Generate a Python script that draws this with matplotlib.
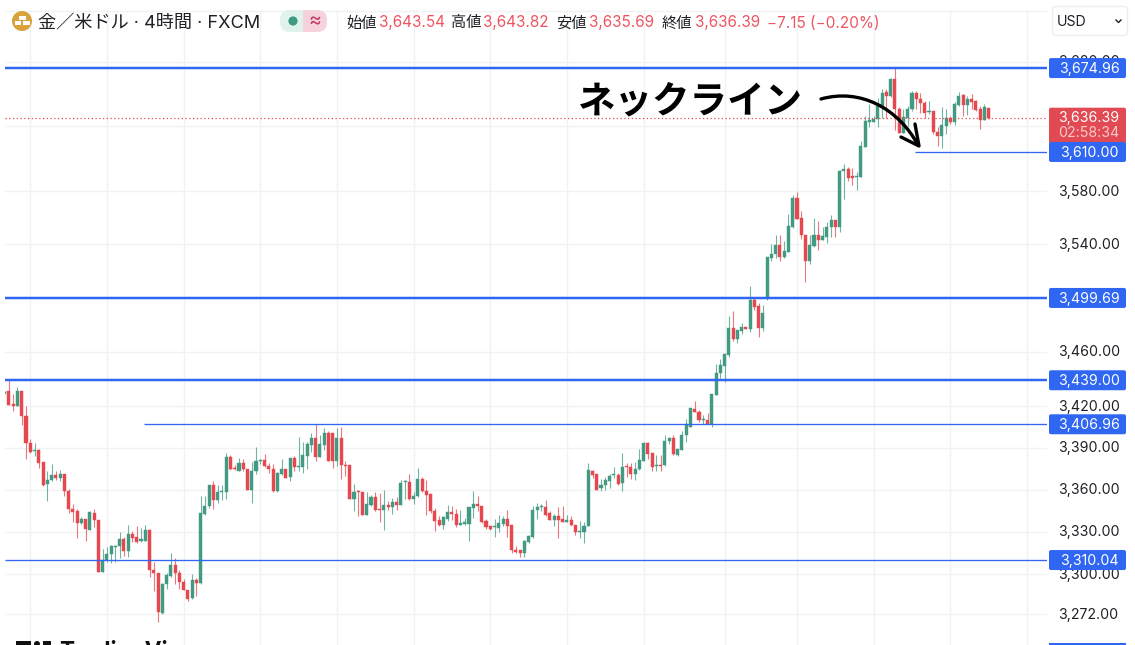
"""
Gold / USD 4h candlestick chart with neckline annotation
"""
import numpy as np
import matplotlib
matplotlib.use('Agg')
import matplotlib.pyplot as plt
from matplotlib.patches import Circle, FancyBboxPatch, PathPatch, Rectangle
from matplotlib.path import Path
from matplotlib.ticker import NullLocator
from matplotlib.transforms import ScaledTranslation

plt.rcParams['font.family'] = ['Inter', 'Noto Sans CJK JP', 'DejaVu Sans']

# g = close above open, r = close below open
directions = (
    "grrgrrrgrr" "ggrgrrrrgr" "grrgggggrg" "rrggrrrggg" "rrrrgrgggr" "gggrrgrrgg" "grrrggrgrg"
    "gggrggrrgr" "rrgrrggrrg" "rgrggrggrr" "rrrggrrggg" "grrrrgggrr" "rrgggggrrg" "rrgrrgggrr"
    "ggggrgrrgg" "grrgrggrgg" "ggrrgrgggg" "grggrgrrgg" "ggrgggrrrg" "grgggrggrr" "gggggggrgr"
    "rgggrrrgrr" "ggrggrgrrr" "gr"
)

body_top = [
    3430.7, 3431.1, 3421.4, 3431.1, 3431.1, 3413.2, 3393.6, 3388.1, 3388.1, 3379.8,
    3367.1, 3370.2, 3370.2, 3371.2, 3371.2, 3359, 3346.3, 3344.4, 3338.7, 3338.9,
    3344, 3343.5, 3338.5, 3310, 3314, 3319.6, 3320.1, 3324.8, 3324.8, 3328.7,
    3328.7, 3326, 3325.1, 3331.5, 3331.5, 3303.3, 3301.2, 3293.3, 3299.3, 3306.4,
    3306.4, 3300.9, 3294.7, 3289.2, 3296.2, 3296.2, 3343, 3348.2, 3363.3, 3363.3,
    3358.3, 3359, 3383.6, 3383.6, 3375.2, 3379.3, 3379.3, 3375, 3373.6, 3380.3,
    3381.2, 3381, 3376.7, 3374.5, 3371.9, 3375, 3375, 3382.4, 3382.4, 3376.9,
    3384.9, 3392.5, 3396.8, 3396.8, 3392.5, 3400.8, 3401, 3400.3, 3397.2, 3397.2,
    3377.8, 3377.3, 3358.5, 3359, 3358.3, 3349.9, 3354.7, 3354.7, 3345.9, 3349,
    3349, 3351.1, 3351.1, 3364.9, 3366.3, 3365.4, 3355.4, 3367.8, 3367.8, 3359,
    3356.6, 3344.5, 3338.1, 3340.2, 3344, 3344, 3342.6, 3335.9, 3336.9, 3347.3,
    3349.9, 3349.9, 3348, 3337.3, 3334, 3333.8, 3336.2, 3339.2, 3339.2, 3334.5,
    3317.4, 3316.9, 3323.6, 3326.9, 3345.2, 3347.3, 3348, 3347.3, 3343, 3341.4,
    3341.2, 3339, 3338.5, 3338.5, 3334.5, 3330.7, 3334.2, 3374.2, 3373.4, 3371,
    3363.4, 3366.8, 3369.7, 3371.2, 3370.5, 3376.1, 3376.6, 3376.1, 3374.6, 3381.3,
    3393.3, 3393.3, 3385.9, 3377.6, 3377.6, 3394.8, 3397.2, 3397.2, 3388.9, 3399.2,
    3407, 3418.6, 3418.1, 3415.9, 3410.5, 3410.2, 3428.6, 3444.3, 3450, 3458,
    3477.7, 3477.7, 3476, 3478.2, 3478.2, 3498, 3497.8, 3493.6, 3488.7, 3530,
    3532.8, 3539.4, 3539.4, 3534.8, 3553.6, 3575.2, 3575.2, 3559.7, 3547, 3539.4,
    3547, 3547, 3546.2, 3553.1, 3558.4, 3558.4, 3595.8, 3597, 3597.3, 3591.4,
    3591.9, 3614.3, 3633.9, 3634.6, 3635.4, 3645.5, 3655.2, 3656.2, 3666.4, 3666.4,
    3643, 3636.7, 3643.5, 3655.2, 3655.2, 3651.1, 3647.6, 3641.7, 3641.7, 3625.7,
    3630.8, 3635.9, 3636.1, 3647.3, 3653.2, 3653.7, 3650.6, 3650.6, 3649.4, 3643,
    3644.3, 3643.54,
]

body_bottom = [
    3429.5, 3421.1, 3420.4, 3419.9, 3412.8, 3393.4, 3387.2, 3387.7, 3379.3, 3363,
    3363.8, 3366.6, 3368.3, 3368.3, 3359, 3345.9, 3343.7, 3336.1, 3336.1, 3332,
    3331.5, 3338.2, 3301.7, 3301.7, 3310, 3314, 3319.1, 3319.6, 3316.5, 3316.5,
    3325.8, 3322.9, 3323.2, 3323.2, 3302.9, 3300.7, 3273.7, 3273.2, 3293, 3299,
    3300.9, 3294.3, 3289, 3282.8, 3283.3, 3294, 3293.8, 3342.8, 3348.2, 3352.3,
    3352.3, 3358.3, 3358.3, 3374.5, 3374.5, 3373.6, 3375, 3359.7, 3359.7, 3373.6,
    3380.5, 3376.7, 3374.5, 3359, 3359, 3371.2, 3368.6, 3368.8, 3376.2, 3376.2,
    3376.1, 3384.4, 3392, 3383.2, 3383.2, 3392, 3380.8, 3380.8, 3380.8, 3377.3,
    3377, 3353.3, 3353.3, 3358, 3342.1, 3342.1, 3349.2, 3345.2, 3345.2, 3345.2,
    3347.3, 3347.6, 3349, 3349.2, 3365.6, 3353.3, 3353.3, 3355.2, 3358.7, 3356.4,
    3344.5, 3337.8, 3335, 3335, 3339.2, 3342.3, 3335, 3335, 3335.4, 3335.7,
    3346.8, 3348, 3336.9, 3333.3, 3332.3, 3333.1, 3332.6, 3335.7, 3334.2, 3317.1,
    3315.5, 3315.2, 3315.2, 3323.1, 3326.2, 3345.2, 3347.3, 3342.1, 3338.5, 3338.5,
    3338.5, 3336.9, 3337.1, 3334.5, 3329.7, 3330, 3330, 3334.2, 3370.7, 3359.9,
    3361.4, 3363.4, 3366, 3370.2, 3364.1, 3364.6, 3375.9, 3371, 3371, 3374.4,
    3380.8, 3385.2, 3375.9, 3376.9, 3376.9, 3377.4, 3394.8, 3385.4, 3384.9, 3388.6,
    3398.9, 3405.3, 3415.9, 3409.7, 3410, 3407.3, 3407.3, 3428.4, 3444.1, 3449.5,
    3457.6, 3469.1, 3469.1, 3475.5, 3476.4, 3476.4, 3493.1, 3477.2, 3477.2, 3499.7,
    3529.5, 3532.8, 3530, 3530, 3534.3, 3553.1, 3559.2, 3546.5, 3527.4, 3527.2,
    3538.9, 3543.2, 3543.2, 3545.7, 3552.8, 3552.8, 3552.8, 3595.5, 3590.2, 3590.2,
    3590.7, 3591.2, 3613.8, 3633.3, 3633.3, 3635.4, 3645, 3653.2, 3653.2, 3643,
    3624.7, 3624.7, 3636.1, 3643, 3650.6, 3647.6, 3639.7, 3640.5, 3625.2, 3622.2,
    3621.9, 3630.3, 3632.8, 3632.8, 3646.3, 3646.1, 3646.3, 3648.8, 3642.5, 3634.9,
    3634.9, 3636.39,
]

highs = [
    3431.1, 3439, 3429, 3433.8, 3431.1, 3419.9, 3396, 3393.6, 3389.3, 3379.8,
    3373.1, 3378.1, 3373.3, 3373.8, 3371.2, 3360.7, 3349.4, 3345.9, 3340.8, 3338.9,
    3344.7, 3345.9, 3338.5, 3317.7, 3319.1, 3320.8, 3320.8, 3329.9, 3326, 3334.6,
    3330.3, 3334.4, 3333, 3334.6, 3332, 3308.4, 3301.2, 3293.8, 3301.2, 3315,
    3311.2, 3302.9, 3296.9, 3289.2, 3300.2, 3297.6, 3355.4, 3355.4, 3363.3, 3366.2,
    3363, 3363, 3386, 3385, 3377.4, 3382.4, 3381.7, 3375, 3379.8, 3390.5,
    3382.2, 3385.3, 3379.3, 3378.1, 3372.6, 3381.7, 3375, 3382.9, 3384.1, 3398,
    3393.9, 3393.9, 3400.3, 3407, 3399.1, 3404.4, 3402.2, 3400.8, 3404.6, 3405.1,
    3380.4, 3377.3, 3364.2, 3359.9, 3358.3, 3358, 3356.4, 3358, 3357.5, 3359.9,
    3351.6, 3354, 3354.5, 3367, 3367, 3371.1, 3358, 3375.4, 3369, 3367,
    3356.6, 3346.8, 3340.9, 3340.9, 3349.2, 3348.5, 3346.1, 3345.2, 3339.7, 3347.6,
    3358.7, 3355.6, 3348, 3339, 3334.3, 3339.2, 3341.9, 3340.9, 3345.7, 3334.5,
    3320, 3317.1, 3324.3, 3327.8, 3348.5, 3350.4, 3349.9, 3352.8, 3344.5, 3342.6,
    3347.6, 3348, 3342.1, 3340.9, 3335, 3337.3, 3336.6, 3378.9, 3374.2, 3371,
    3367.3, 3369, 3371, 3375.9, 3372.2, 3386.2, 3378.8, 3378.8, 3379.6, 3389.4,
    3393.8, 3393.8, 3386.4, 3384.9, 3384.5, 3398.9, 3398, 3398.9, 3388.9, 3402.4,
    3410.7, 3418.8, 3423.7, 3417.6, 3413.9, 3415.1, 3429.3, 3450.7, 3454.4, 3459.3,
    3486.3, 3490, 3476, 3481.4, 3478.2, 3508.8, 3500.2, 3496.1, 3494.1, 3530.5,
    3540.1, 3547.2, 3546.5, 3542.2, 3562.5, 3577.5, 3579.5, 3565, 3547, 3547,
    3559.7, 3557.1, 3552.8, 3556.6, 3561.7, 3558.4, 3596, 3601.1, 3598.6, 3598,
    3594.7, 3618.1, 3637.4, 3646.8, 3637.9, 3651.9, 3658.7, 3658.7, 3667.1, 3675,
    3644.8, 3643.5, 3645.5, 3656.7, 3657, 3655.7, 3649.4, 3649.4, 3641.7, 3629,
    3644.3, 3643, 3637.9, 3648.6, 3656.5, 3654.4, 3653.2, 3654.4, 3649.9, 3645.5,
    3647.3, 3643.82,
]

lows = [
    3429, 3421.1, 3416.8, 3419.9, 3406.1, 3382.2, 3386.5, 3384.1, 3375.2, 3362.6,
    3351.8, 3366.2, 3366.6, 3366.2, 3355.4, 3343.5, 3336.8, 3325.3, 3335.8, 3323.6,
    3331, 3333.2, 3301.7, 3301.7, 3308.8, 3308.1, 3308.8, 3311.2, 3312.9, 3312.4,
    3322.7, 3322.4, 3322.9, 3323.2, 3298.1, 3288.5, 3267, 3272.3, 3289.7, 3298.1,
    3293.3, 3289.5, 3289, 3281.4, 3282.8, 3285, 3293.3, 3341.6, 3347, 3345.9,
    3350.6, 3352.3, 3353.5, 3374, 3374, 3373.3, 3373.3, 3359.7, 3350.6, 3371,
    3378.1, 3376.4, 3371.7, 3358.5, 3358.5, 3370.2, 3368.1, 3366.2, 3373.3, 3373.3,
    3371.8, 3374.9, 3387.3, 3380.8, 3383.2, 3388.4, 3380.8, 3375.8, 3376.6, 3367.8,
    3369.9, 3353.3, 3344.5, 3341.4, 3341.6, 3342.1, 3348, 3344.5, 3336.6, 3331.4,
    3345.7, 3342.6, 3345.7, 3349.2, 3353.3, 3352.8, 3349.9, 3354.7, 3358.3, 3341.6,
    3343.3, 3330.2, 3334.2, 3332.1, 3337.3, 3338.5, 3333.3, 3334.5, 3334.7, 3323.6,
    3339.7, 3345, 3336.2, 3331.9, 3331.4, 3326.2, 3329.7, 3334.2, 3326.2, 3315.2,
    3315.2, 3311.9, 3312.4, 3321.9, 3325.9, 3339, 3344.5, 3340.9, 3338.1, 3334.2,
    3325.9, 3336.6, 3336.6, 3334.2, 3327.4, 3325.5, 3321.9, 3333.8, 3368, 3359.9,
    3358.7, 3359.9, 3361.2, 3368.5, 3363.6, 3358.7, 3369, 3367.3, 3366.5, 3373.9,
    3380.3, 3382, 3373.4, 3373.4, 3373.4, 3376.9, 3392.6, 3384.9, 3384.2, 3388.1,
    3393.8, 3404.8, 3415.6, 3408.3, 3407.3, 3407, 3404.8, 3428.4, 3440.9, 3437.7,
    3456.3, 3467.9, 3466.1, 3472.8, 3476.4, 3474.5, 3490.7, 3470.8, 3475, 3498.2,
    3527.4, 3529.5, 3527.4, 3529.5, 3533.8, 3552.3, 3558.7, 3543.9, 3511.4, 3525.4,
    3537.6, 3535.6, 3542.7, 3540.9, 3545.2, 3545.7, 3549, 3574.4, 3587.6, 3584.6,
    3580.8, 3590.7, 3613.8, 3629, 3632.8, 3629, 3635.9, 3635.9, 3652.7, 3627,
    3624.2, 3624.2, 3630.3, 3641.7, 3643, 3640, 3635.9, 3639.2, 3623.9, 3614.6,
    3613, 3624, 3631.6, 3631, 3645.5, 3637.4, 3638.4, 3643, 3641.7, 3627.3,
    3634.6, 3635.69,
]

price_ticks = [3272, 3300, 3330, 3360, 3390, 3420, 3460, 3500, 3540, 3580, 3630, 3680, 3720]
time_ticks = [6, 24, 42, 60, 78, 96, 114, 132, 150, 169, 186, 204, 222, 240]

# price, first candle index the line starts at, thick or not
thick_levels = [3674.96, 3499.69, 3439.00]
thin_levels = [3406.96, 3310.04, 3610.00]
thin_starts = [32.6, 0, 213.7]

last_price = 3636.39
countdown = "02:58:34"
legend_items = [("始値", "3,643.54", 346), ("高値", "3,643.82", 451),
                ("安値", "3,635.69", 556), ("終値", "3,636.39", 662)]
change_text = "−7.15 (−0.20%)"

UP = '#429a83'
DOWN = '#e5484f'
BLUE = '#2f66f2'
TEXT = '#1f2126'
GRID = '#f1f2f4'
W, H = 1135, 645


def add_tag(overlay, y, label, color=BLUE):
    """Blue price tag in the right scale"""
    overlay.add_patch(FancyBboxPatch((1049, y - 10), 77, 20, boxstyle='round,pad=0,rounding_size=2',
                                     fc=color, ec='none', zorder=5))
    overlay.text(1089, y + 0.8, label, color='white', fontsize=10.2, ha='center', va='center', zorder=6)


fig = plt.figure(figsize=(W / 100, H / 100), dpi=100, facecolor='white')
ax = fig.add_axes([4.7 / W, 0, (1047 - 4.7) / W, 635 / H])

x = np.arange(len(body_top))
is_up = np.array([d == 'g' for d in directions])
body_top = np.array(body_top)
body_bottom = np.array(body_bottom)
colors = np.where(is_up, UP, DOWN)

ax.set_yscale('log')
ax.vlines(x, lows, highs, colors=colors, lw=0.8, alpha=0.75, zorder=2)
ax.bar(x, body_top - body_bottom, bottom=body_bottom, width=0.72, color=colors,
       edgecolor=colors, linewidth=0.3, zorder=3)

ax.set_xlim(0, 244.7)
ax.set_ylim(3250.8, 3720.6)

for level in thick_levels:
    ax.hlines(level, 0, 244.7, color=BLUE, lw=2.6, alpha=0.25, zorder=4)
    ax.hlines(level, 0, 244.7, color=BLUE, lw=1.5, zorder=4)
for level, start in zip(thin_levels, thin_starts):
    ax.hlines(level, start, 244.7, color=BLUE, lw=0.95, zorder=4)
ax.hlines(last_price, 0, 244.7, color=DOWN, lw=0.9, linestyles=(0, (1, 2)), zorder=4)

ax.yaxis.tick_right()
ax.yaxis.set_minor_locator(NullLocator())
ax.set_yticks(price_ticks)
ax.set_yticklabels([f'{p:,.2f}' for p in price_ticks[:-1]] + [''], fontsize=10.2, color=TEXT)
ax.set_xticks(time_ticks)
ax.set_xticklabels([])
ax.tick_params(axis='both', which='both', length=0)
ax.tick_params(axis='y', pad=8)
ax.grid(True, color=GRID, lw=1)
ax.set_axisbelow(True)
for spine in ax.spines.values():
    spine.set_visible(False)
nudge = ScaledTranslation(0, 1 / 100, fig.dpi_scale_trans)
for label in ax.get_yticklabels():
    label.set_transform(label.get_transform() + nudge)

# overlay in pixel units for header, tags and the hand drawn note
overlay = fig.add_axes([0, 0, 1, 1], zorder=10)
overlay.set_xlim(0, W)
overlay.set_ylim(H, 0)
overlay.axis('off')

fig.canvas.draw()


def price_to_y(price):
    return H - ax.transData.transform((0, price))[1]


for level in thick_levels + thin_levels:
    add_tag(overlay, price_to_y(level), f'{level:,.2f}')

y_last = price_to_y(last_price)
overlay.add_patch(FancyBboxPatch((1049, y_last - 10), 77, 36, boxstyle='round,pad=0,rounding_size=2',
                                 fc='#e14a52', ec='none', zorder=4))
overlay.text(1089, y_last, f'{last_price:,.2f}', color='white', fontsize=10.2, ha='center', va='center', zorder=6)
overlay.text(1089, y_last + 15, countdown, color='#f7c9cc', fontsize=10.2, ha='center', va='center', zorder=6)
overlay.add_patch(Rectangle((1049, 643), 77, 4, fc=BLUE, ec='none', zorder=5))

# header
overlay.add_patch(Circle((22, 21), 10, fc='#d9a23b', ec='none'))
overlay.add_patch(Rectangle((18.5, 16), 7, 3.5, fc='white', ec='none'))
overlay.add_patch(Rectangle((14.5, 21), 6.5, 3.5, fc='white', ec='none'))
overlay.add_patch(Rectangle((23, 21), 6.5, 3.5, fc='white', ec='none'))
overlay.text(38, 23, "金／米ドル · 4時間 · FXCM", fontsize=13.1, color=TEXT, va='center')

overlay.add_patch(FancyBboxPatch((280, 10), 47, 22, boxstyle='round,pad=0,rounding_size=10',
                                 fc='#e0f2ec', ec='none'))
pink = FancyBboxPatch((280, 10), 47, 22, boxstyle='round,pad=0,rounding_size=10', fc='#f6d3dc', ec='none')
overlay.add_patch(pink)
pink.set_clip_path(Rectangle((303, 0), 40, 60, transform=overlay.transData))
overlay.add_patch(Circle((293, 21), 4.6, fc='#3f9a82', ec='none'))
overlay.text(315, 21, "≈", fontsize=14, color='#c23a68', ha='center', va='center')

for label, value, left in legend_items:
    overlay.text(left, 23, label, fontsize=11, color=TEXT, va='center')
    overlay.text(left + 32.5, 23, value, fontsize=11, color='#ef5560', va='center')
overlay.text(767, 23, change_text, fontsize=11, color='#ef5560', va='center')

overlay.add_patch(FancyBboxPatch((1052.5, 6.5), 75, 29, boxstyle='round,pad=0,rounding_size=4',
                                 fc='white', ec='#eeeeee', lw=1))
overlay.text(1057, 22.5, "USD", fontsize=10.2, color=TEXT, va='center')
overlay.plot([1116, 1118.5, 1121], [20, 22.5, 20], color=TEXT, lw=1)

# neckline note
overlay.text(578, 101, "ネックライン", fontsize=27, fontweight='bold', color='black', va='center',
             family=['Noto Sans CJK JP', 'DejaVu Sans'])
curve = Path([(821, 99), (860, 88), (898, 108), (918, 145)],
             [Path.MOVETO, Path.CURVE4, Path.CURVE4, Path.CURVE4])
overlay.add_patch(PathPatch(curve, fc='none', ec='black', lw=2.4, capstyle='round', zorder=7))
overlay.plot([901, 919, 915], [137, 146, 124], color='black', lw=2.4, solid_capstyle='round',
             solid_joinstyle='round', zorder=7)

# watermark cut off by the bottom edge
overlay.add_patch(Rectangle((16, 641), 15, 6, fc='#111111', ec='none'))
overlay.add_patch(Circle((37, 644), 3, fc='#111111', ec='none'))
overlay.add_patch(Rectangle((43, 641), 8, 6, fc='#111111', ec='none'))
overlay.text(59, 640, "TradingView", fontsize=16.2, fontweight='bold', color='#111111', va='top',
             clip_on=True)

fig.savefig('out.png', dpi=100)
plt.close(fig)
